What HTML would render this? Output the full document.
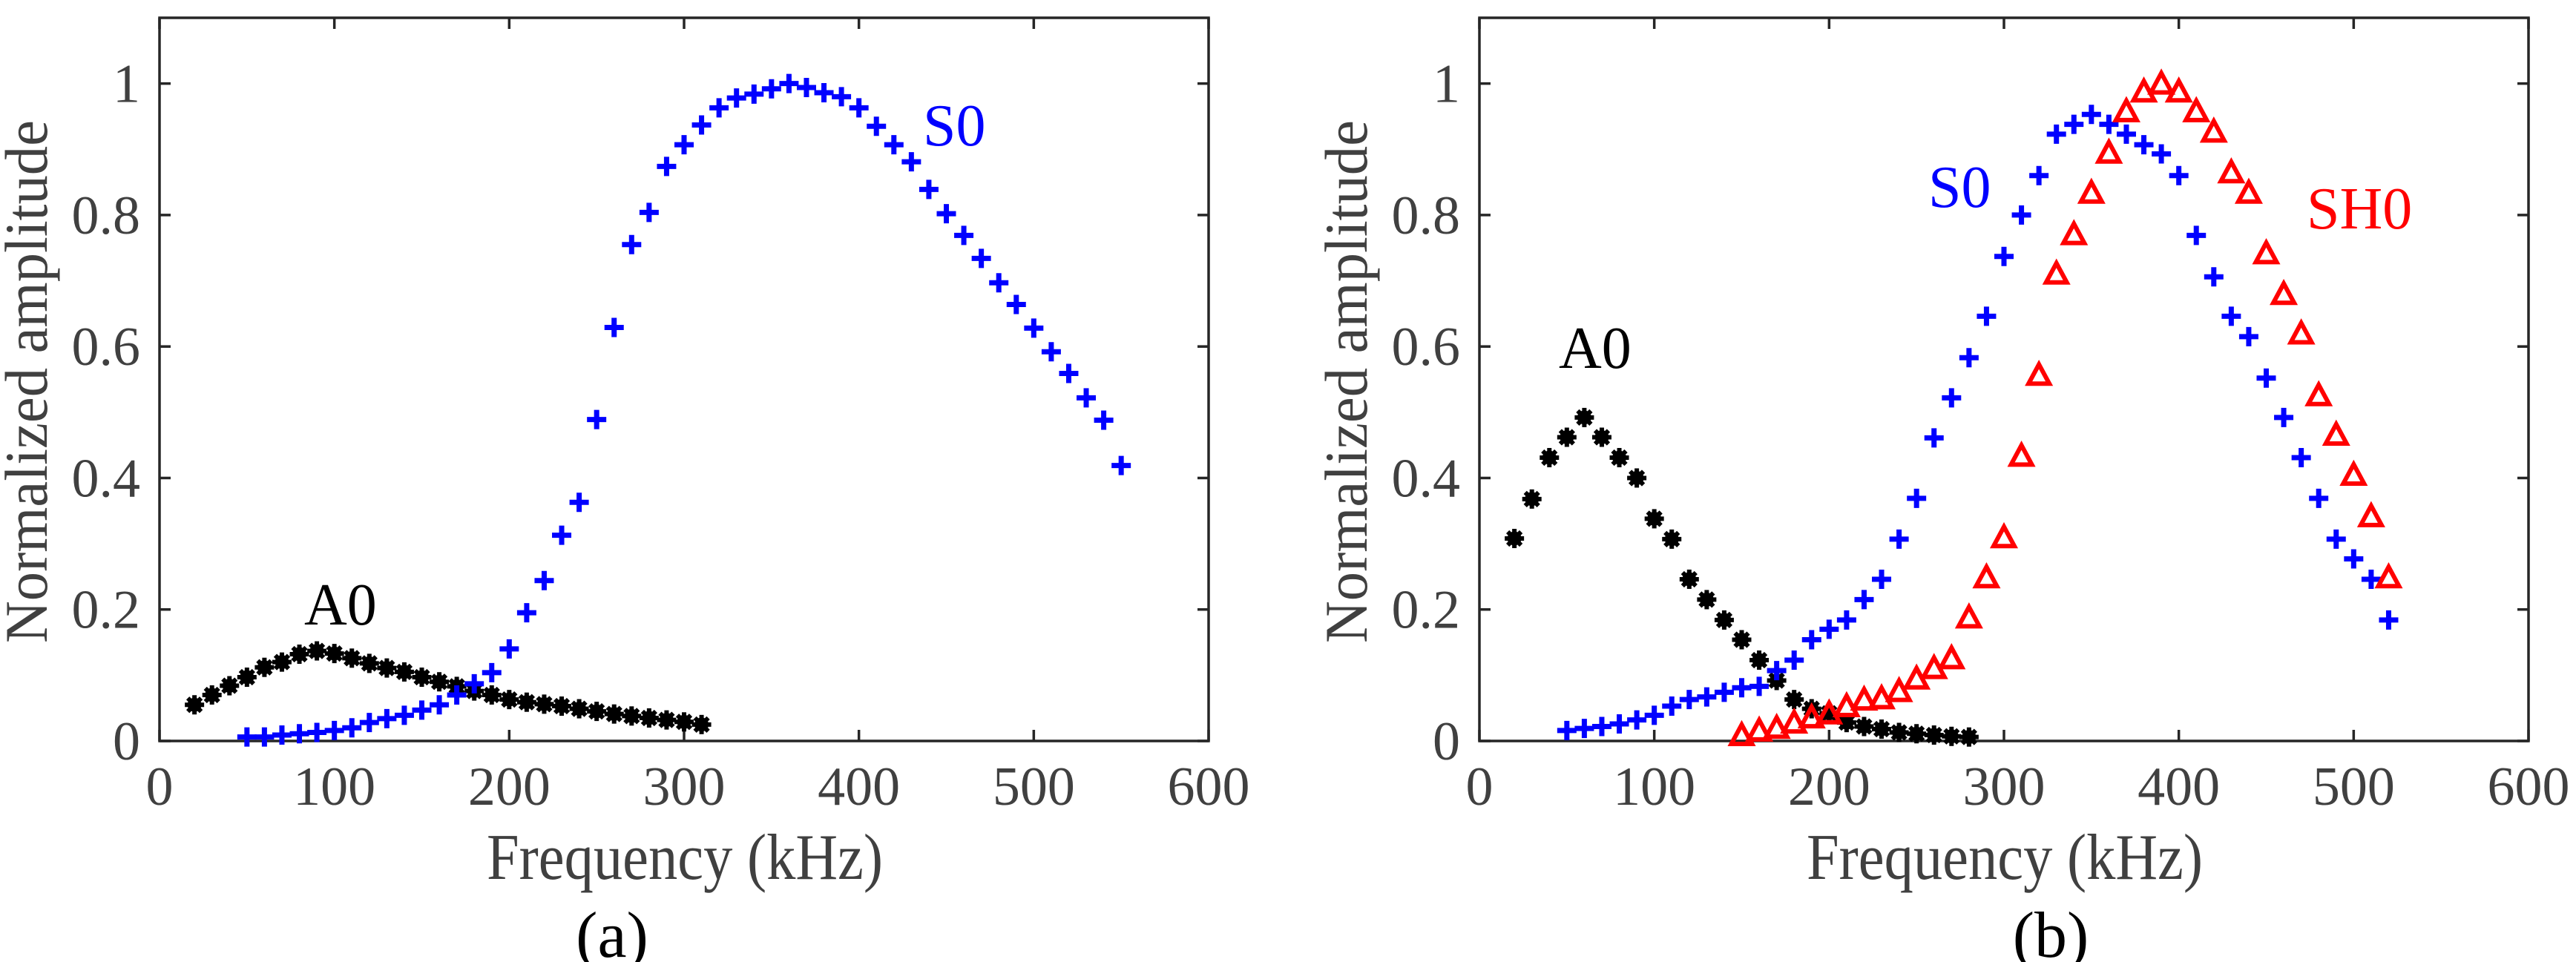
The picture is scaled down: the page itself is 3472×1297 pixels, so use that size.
<!DOCTYPE html>
<html><head><meta charset="utf-8"><style>
html,body{margin:0;padding:0;background:#fff;}
svg{display:block;}
</style></head><body>
<svg id="fig" width="3472" height="1297" viewBox="0 0 3472 1297" xmlns="http://www.w3.org/2000/svg" style="font-family:'Liberation Serif','Times New Roman','DejaVu Serif',serif"></svg>
<script>
// ---- data (panel a) ----
const aA0x = [20,30,40,50,60,70,80,90,100,110,120,130,140,150,160,170,180,190,200,210,220,230,240,250,260,270,280,290,300,310];
const aA0y = [0.055,0.07,0.084,0.097,0.112,0.12,0.132,0.137,0.133,0.126,0.118,0.111,0.105,0.097,0.09,0.083,0.076,0.07,0.063,0.059,0.056,0.053,0.049,0.045,0.041,0.038,0.035,0.032,0.029,0.025];
const aS0x = [50,60,70,80,90,100,110,120,130,140,150,160,170,180,190,200,210,220,230,240,250,260,270,280,290,300,310,320,330,340,350,360,370,380,390,400,410,420,430,440,450,460,470,480,490,500,510,520,530,540,550];
const aS0y = [0.006,0.006,0.009,0.011,0.013,0.016,0.02,0.028,0.034,0.039,0.047,0.055,0.07,0.087,0.104,0.14,0.195,0.244,0.313,0.363,0.489,0.629,0.755,0.804,0.874,0.907,0.937,0.963,0.978,0.984,0.992,1.0,0.994,0.986,0.98,0.963,0.935,0.907,0.881,0.839,0.802,0.769,0.734,0.697,0.664,0.628,0.592,0.559,0.522,0.488,0.419];
// ---- data (panel b) ----
const bA0x = [20,30,40,50,60,70,80,90,100,110,120,130,140,150,160,170,180,190,200,210,220,230,240,250,260,270,280];
const bA0y = [0.308,0.368,0.431,0.462,0.492,0.462,0.431,0.4,0.338,0.307,0.246,0.215,0.184,0.154,0.123,0.092,0.063,0.049,0.042,0.028,0.022,0.018,0.013,0.011,0.009,0.007,0.006];
const bS0x = [50,60,70,80,90,100,110,120,130,140,150,160,170,180,190,200,210,220,230,240,250,260,270,280,290,300,310,320,330,340,350,360,370,380,390,400,410,420,430,440,450,460,470,480,490,500,510,520];
const bS0y = [0.016,0.019,0.022,0.026,0.032,0.039,0.053,0.063,0.067,0.074,0.081,0.083,0.107,0.123,0.154,0.17,0.184,0.215,0.246,0.307,0.369,0.461,0.522,0.583,0.646,0.737,0.8,0.86,0.923,0.938,0.953,0.938,0.923,0.907,0.893,0.86,0.769,0.706,0.646,0.615,0.552,0.492,0.431,0.369,0.307,0.277,0.246,0.184];
const bSH0x = [150,160,170,180,190,200,210,220,230,240,250,260,270,280,290,300,310,320,330,340,350,360,370,380,390,400,410,420,430,440,450,460,470,480,490,500,510,520];
const bSH0y = [0.009,0.016,0.02,0.028,0.036,0.042,0.053,0.063,0.065,0.076,0.095,0.111,0.126,0.188,0.249,0.31,0.434,0.557,0.711,0.771,0.834,0.895,0.958,0.988,1.0,0.988,0.958,0.927,0.865,0.834,0.742,0.68,0.62,0.526,0.466,0.405,0.342,0.249];
const xTicks = [0,100,200,300,400,500,600];
const yTicks = [0,0.2,0.4,0.6,0.8,1];
const yTickLabels = ["0","0.2","0.4","0.6","0.8","1"];

const NS = "http://www.w3.org/2000/svg";
const svg = document.getElementById('fig');
function mk(tag, attrs, parent){
  const e = document.createElementNS(NS, tag);
  for (const k in attrs) e.setAttribute(k, attrs[k]);
  if (tag === 'text') e.setAttribute('style', "font-family:'Liberation Serif','Times New Roman','DejaVu Serif',serif");
  (parent||svg).appendChild(e);
  return e;
}
function panel(left, name){
  const P = {left:left, right:left+1414, top:24, bottom:999, xmax:600, ymax:1.1};
  P.x = v => P.left + v/P.xmax*(P.right-P.left);
  P.y = v => P.bottom - v/P.ymax*(P.bottom-P.top);
  const g = mk('g', {});
  
  
  P.g = g;
  const frame = mk('rect', {x:P.left, y:P.top, width:P.right-P.left, height:P.bottom-P.top, fill:'none', stroke:'#262626', 'stroke-width':3.5}, g);
  
  
  xTicks.forEach(t => {
    const X = P.x(t);
    mk('line', {x1:X, y1:P.bottom, x2:X, y2:P.bottom-15, stroke:'#262626', 'stroke-width':3.5}, g);
    mk('line', {x1:X, y1:P.top, x2:X, y2:P.top+15, stroke:'#262626', 'stroke-width':3.5}, g);
    const tx = mk('text', {x:X, y:1085, 'text-anchor':'middle', 'font-size':74, fill:'#404040'}, g);
    tx.textContent = String(t);
    
    
  });
  yTicks.forEach((t,i) => {
    const Y = P.y(t);
    mk('line', {x1:P.left, y1:Y, x2:P.left+15, y2:Y, stroke:'#262626', 'stroke-width':3.5}, g);
    mk('line', {x1:P.right, y1:Y, x2:P.right-15, y2:Y, stroke:'#262626', 'stroke-width':3.5}, g);
    const ty = mk('text', {x:P.left-26, y:Y+25, 'text-anchor':'end', 'font-size':74, fill:'#404040'}, g);
    ty.textContent = yTickLabels[i];
    
    
  });
  const xl = mk('text', {x:P.left+441, y:1185, 'font-size':88, fill:'#404040', textLength:534, lengthAdjust:'spacingAndGlyphs'}, g);
  xl.textContent = 'Frequency (kHz)';
  
  
  const yl = mk('text', {transform:`translate(${P.left-152},867) rotate(-90)`, 'font-size':82, fill:'#404040', textLength:705, lengthAdjust:'spacingAndGlyphs'}, g);
  yl.textContent = 'Normalized amplitude';
  
  
  return P;
}
function star(P, xs, ys, name){
  const g = mk('g', {fill:'#000', stroke:'#000'}, P.g);
  
  
  xs.forEach((v,i) => {
    const X = P.x(v), Y = P.y(ys[i]);
    const m = mk('g', {}, g);
    
    
    mk('circle', {cx:X, cy:Y, r:9.5, stroke:'none'}, m);
    [[0,13],[13,0],[9,9],[9,-9]].forEach(d => mk('line', {x1:X-d[0], y1:Y-d[1], x2:X+d[0], y2:Y+d[1], 'stroke-width':6}, m));
  });
}
function plus(P, xs, ys, name){
  const g = mk('g', {stroke:'#0000ff', 'stroke-width':7}, P.g);
  
  
  xs.forEach((v,i) => {
    const X = P.x(v), Y = P.y(ys[i]);
    const p = mk('path', {d:`M${X-13},${Y}H${X+13}M${X},${Y-13}V${Y+13}`, fill:'none'}, g);
    
    
  });
}
function tri(P, xs, ys, name){
  const g = mk('g', {stroke:'#ff0000', 'stroke-width':6, fill:'none'}, P.g);
  
  
  xs.forEach((v,i) => {
    const X = P.x(v), Y = P.y(ys[i]);
    const p = mk('path', {d:`M${X},${Y-14}L${X+14},${Y+12}L${X-14},${Y+12}Z`}, g);
    
    
  });
}
function label(P, x, y, txt, col, name){
  const t = mk('text', {x:x, y:y, 'font-size':80, fill:col}, P.g);
  t.textContent = txt;
  
  
}
function caption(x, txt, name){
  const t = mk('text', {x:x, y:1290, 'font-size':88, fill:'#000', 'text-anchor':'middle'});
  t.textContent = txt;
  
  
}
const PA = panel(215, 'panel-a');
star(PA, aA0x, aA0y, 'series-a0');
plus(PA, aS0x, aS0y, 'series-s0');
label(PA, 410, 842, 'A0', '#000', 'label-a0');
label(PA, 1244, 196, 'S0', '#0000ff', 'label-s0');
caption(825, '(a)', 'caption-a');

const PB = panel(1994, 'panel-b');
star(PB, bA0x, bA0y, 'series-a0');
plus(PB, bS0x, bS0y, 'series-s0');
tri(PB, bSH0x, bSH0y, 'series-sh0');
label(PB, 2101, 496, 'A0', '#000', 'label-a0');
label(PB, 2599, 279, 'S0', '#0000ff', 'label-s0');
label(PB, 3109, 308, 'SH0', '#ff0000', 'label-sh0');
caption(2764, '(b)', 'caption-b');
</script>
</body></html>
